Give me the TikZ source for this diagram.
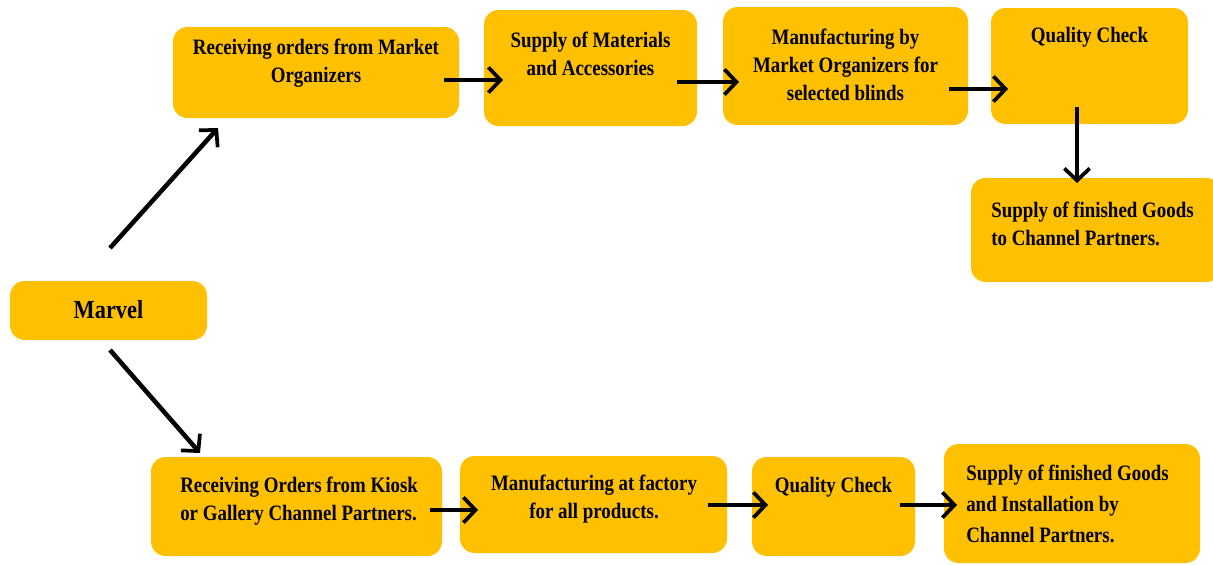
\documentclass[tikz,border=0pt]{standalone}
\usepackage{fontspec}
\setmainfont{Liberation Serif}[FakeStretch=0.86]
\usetikzlibrary{arrows.meta}
\definecolor{boxfill}{HTML}{FFC000}
\tikzset{
  bx/.style 2 args={fill=boxfill, draw=none, rounded corners=11pt,
    minimum width=#1*0.75pt, minimum height=#2*0.75pt, inner sep=0pt},
  txt/.style={inner sep=0pt, font=\fontsize{16.5}{21}\selectfont\bfseries, text=black},
  arr/.style={line width=3.4pt, -{Straight Barb[length=9pt,width=19pt,line width=2.8pt]}}
}
\begin{document}
\begin{tikzpicture}[x=0.75pt,y=-0.75pt]
\fill[white] (0,0) rectangle (1213,564);
\useasboundingbox (0,0) rectangle (1213,564);
\begin{scope}
\clip (0,0) rectangle (1213,564);
% boxes
\node[bx={286}{91}]  (b1) at (316,72.5) {};
\node[bx={213}{116}] (b2) at (590.5,68) {};
\node[bx={245}{118}] (b3) at (845.5,66) {};
\node[bx={197}{116}] (b4) at (1089.5,66) {};
\node[bx={250}{104}] (b5) at (1096,230) {};
\node[bx={197}{59}]  (mv) at (108.5,310.5) {};
\node[bx={291}{99}]  (b7) at (296.5,506.5) {};
\node[bx={267}{97}]  (b8) at (593.5,504.5) {};
\node[bx={163}{99}]  (b9) at (833.5,506.5) {};
\node[bx={256}{119}] (b10) at (1072,503.5) {};
\end{scope}
% texts
\node[txt, align=center] (t1) at (316,63) {Receiving orders from Market\\Organizers};
\node[txt, align=center] (t2) at (590.5,54) {Supply of Materials\\and Accessories};
\node[txt, align=center] (t3) at (845.5,65) {Manufacturing by\\Market Organizers for\\selected blinds};
\node[txt, align=center] (t4) at (1089.5,37) {Quality Check};
\node[txt, align=left, anchor=west] (t5) at (991,223.5) {Supply of finished Goods\\to Channel Partners.};
\node[txt, font=\fontsize{19.5}{24}\selectfont\bfseries] (tm) at (108.5,310) {Marvel};
\node[txt, align=left, anchor=west] (t7) at (180,501) {Receiving Orders from Kiosk\\or Gallery Channel Partners.};
\node[txt, align=center] (t8) at (594,499) {Manufacturing at factory\\for all products.};
\node[txt, align=center] (t9) at (833.5,487) {Quality Check};
\node[txt, align=left, anchor=west, font=\fontsize{16.5}{23}\selectfont\bfseries] (t10) at (966,504) {Supply of finished Goods\\and Installation by\\Channel Partners.};
% arrow endpoints
\coordinate (a1s) at (110,248); \coordinate (a1e) at (218,128);
\coordinate (a2s) at (110,350); \coordinate (a2e) at (200,453);
\coordinate (h1s) at (444,80);  \coordinate (h1e) at (503,80);
\coordinate (h2s) at (677,82);  \coordinate (h2e) at (739,82);
\coordinate (h3s) at (949,89);  \coordinate (h3e) at (1008,89);
\coordinate (v1s) at (1077,107); \coordinate (v1e) at (1077,183);
\coordinate (h4s) at (430,510); \coordinate (h4e) at (478,510);
\coordinate (h5s) at (708,505); \coordinate (h5e) at (768,505);
\coordinate (h6s) at (900,505); \coordinate (h6e) at (957,505);
\draw[arr] (a1s) -- (a1e);
\draw[arr] (a2s) -- (a2e);
\draw[arr] (h1s) -- (h1e);
\draw[arr] (h2s) -- (h2e);
\draw[arr] (h3s) -- (h3e);
\draw[arr] (v1s) -- (v1e);
\draw[arr] (h4s) -- (h4e);
\draw[arr] (h5s) -- (h5e);
\draw[arr] (h6s) -- (h6e);
\end{tikzpicture}
\end{document}
